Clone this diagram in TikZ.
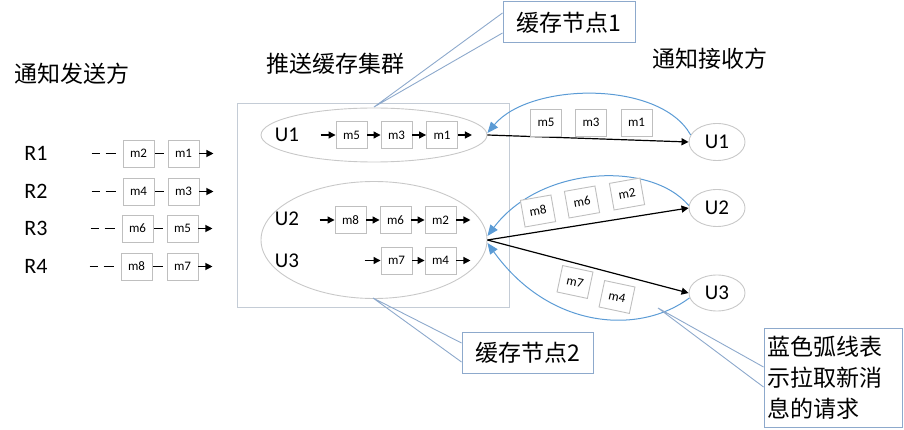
\documentclass[tikz,border=0pt]{standalone}
\usepackage{fontspec}
\setmainfont{Carlito}
\newfontfamily\cjk{Noto Sans CJK SC}
\usetikzlibrary{shapes.geometric,arrows.meta}
\definecolor{boxgray}{RGB}{191,191,191}
\definecolor{ellgray}{RGB}{200,200,200}
\definecolor{rectgray}{RGB}{196,204,214}
\definecolor{arcblue}{RGB}{91,155,213}
\definecolor{callblue}{RGB}{141,169,204}
\tikzset{
  msg/.style={draw=boxgray, fill=white, line width=0.9pt, minimum width=31pt, minimum height=27pt, inner sep=0pt, font=\fontsize{13}{13}\selectfont},
  title/.style={font=\cjk\fontsize{23}{28}\selectfont, inner sep=0pt},
  rlab/.style={font=\fontsize{22}{22}\selectfont, inner sep=0pt},
  ulab/.style={font=\fontsize{21}{21}\selectfont, inner sep=0pt},
  ell/.style={ellipse, draw=ellgray, line width=0.9pt, inner sep=0pt},
  blk/.style={draw=black, line width=1.2pt},
  blkarrow/.style={draw=black, line width=1.2pt, -{Triangle[length=7pt,width=7pt]}},
  dashline/.style={draw=black, line width=1.2pt, dash pattern=on 8pt off 6pt on 10pt off 20pt},
  arcline/.style={draw=arcblue, line width=1pt, -{Triangle[length=11pt,width=9pt]}},
  callbox/.style={draw=callblue, fill=white, line width=1pt, inner sep=0pt, font=\cjk\fontsize{23}{28}\selectfont},
  callline/.style={draw=callblue, line width=0.9pt},
}
\begin{document}
\begin{tikzpicture}[x=1pt,y=-1pt]
\useasboundingbox (0,0) rectangle (904,430);

% titles
\node[title] (tSend) at (72,74) {通知发送方};
\node[title] (tClus) at (335,64) {推送缓存集群};
\node[title] (tRecv) at (710,59) {通知接收方};

% senders
\foreach \r/\y/\a/\b/\xa/\xb in {1/153.5/2/1/138.5/183.5, 2/191.5/4/3/138.5/183.5, 3/228.5/6/5/137.5/182.5, 4/266.5/8/7/136.5/182.5}{
  \node[rlab] (R\r) at (36,\y) {R\r};
  \node[msg] (la\r) at (\xa,\y) {m\a};
  \node[msg] (lb\r) at (\xb,\y) {m\b};
  \draw[dashline] ([xshift=-31pt]la\r.west) -- ([xshift=-6pt]la\r.west);
  \draw[blk] ([xshift=1pt]la\r.east) -- ([xshift=-4pt]lb\r.west);
  \draw[blkarrow] (lb\r.east) -- ([xshift=14pt]lb\r.east);
}

% cluster
\node[draw=rectgray, line width=1pt, minimum width=272pt, minimum height=203pt, inner sep=0pt] (cluster) at (373,205.5) {};
\node[ell, minimum width=226pt, minimum height=54pt] (e1) at (374,135) {};
\node[ell, minimum width=226pt, minimum height=117pt] (e2) at (374,240) {};

\node[ulab] (cu1) at (287,135) {U1};
\node[ulab] (cu2) at (287,219) {U2};
\node[ulab] (cu3) at (287,261) {U3};

\node[msg] (c5) at (351.5,135) {m5};
\node[msg] (c3) at (396.5,135) {m3};
\node[msg] (c1) at (442,135) {m1};
\draw[blkarrow] ([xshift=-15pt]c5.west) -- (c5.west);
\draw[blkarrow] (c5.east) -- (c3.west);
\draw[blkarrow] (c3.east) -- (c1.west);
\draw[blkarrow] (c1.east) -- ([xshift=14pt]c1.east);

\node[msg] (d8) at (350.5,220) {m8};
\node[msg] (d6) at (395.5,220) {m6};
\node[msg] (d2) at (440.5,220) {m2};
\draw[blkarrow] ([xshift=-15pt]d8.west) -- (d8.west);
\draw[blkarrow] (d8.east) -- (d6.west);
\draw[blkarrow] (d6.east) -- (d2.west);
\draw[blkarrow] (d2.east) -- ([xshift=14pt]d2.east);

\node[msg] (f7) at (396.5,260.5) {m7};
\node[msg] (f4) at (440.5,260.5) {m4};
\draw[blkarrow] ([xshift=-16pt]f7.west) -- (f7.west);
\draw[blkarrow] (f7.east) -- (f4.west);
\draw[blkarrow] (f4.east) -- ([xshift=14pt]f4.east);

% receivers
\node[ell, minimum width=56pt, minimum height=37pt, font=\fontsize{21}{21}\selectfont] (r1) at (717,142) {U1};
\node[ell, minimum width=56pt, minimum height=37pt, font=\fontsize{21}{21}\selectfont] (r2) at (717,208) {U2};
\node[ell, minimum width=56pt, minimum height=36pt, font=\fontsize{21}{21}\selectfont] (r3) at (717,293) {U3};

% push arrows
\draw[blkarrow] (e1.east) -- (r1.west);
\draw[blkarrow] (e2.east) -- (r2.west);
\draw[blkarrow] (e2.east) -- (r3.west);

% pull arcs
\draw[arcline] (r1.165) .. controls (660,80) and (530,82) .. ([yshift=2pt]e1.east);
\draw[arcline] (r2.175) .. controls (650,160) and (540,166) .. ([yshift=4pt]e2.east);
\draw[arcline] (r3.190) .. controls (640,335) and (550,330) .. ([yshift=-3pt]e2.east);

% messages in flight
\node[msg] (s5) at (546,122.5) {m5};
\node[msg] (s3) at (591,122.5) {m3};
\node[msg] (s1) at (636.5,122.5) {m1};
\node[msg, rotate=10] (t8) at (538,211) {m8};
\node[msg, rotate=10] (t6) at (582,202) {m6};
\node[msg, rotate=10] (t2) at (627,194) {m2};
\node[msg, rotate=-12] (v7) at (575,282) {m7};
\node[msg, rotate=-12] (v4) at (617,297) {m4};

% callouts
\coordinate (k1tip) at (374,107);
\coordinate (k2tip) at (373,298);
\coordinate (k3tip) at (658,308);
\node[callbox, minimum width=132pt, minimum height=41pt] (k1) at (569,22.5) {缓存节点1};
\draw[callline] ([yshift=9.5pt]k1.west) -- (k1tip) -- ([yshift=-10.5pt]k1.west);
\node[callbox, minimum width=131pt, minimum height=41pt] (k2) at (527.5,352.5) {缓存节点2};
\draw[callline] ([yshift=9.5pt]k2.west) -- (k2tip) -- ([yshift=-9.5pt]k2.west);
\node[callbox, minimum width=138pt, minimum height=99pt] (k3) at (833,377.5) {};
\node[font=\cjk\fontsize{23}{31}\selectfont, align=left, anchor=west, inner sep=0pt] (k3t) at (767,378) {蓝色弧线表\\示拉取新消\\息的请求};
\draw[callline] ([yshift=10.5pt]k3.west) -- (k3tip) -- ([yshift=-9.5pt]k3.west);
\end{tikzpicture}
\end{document}
